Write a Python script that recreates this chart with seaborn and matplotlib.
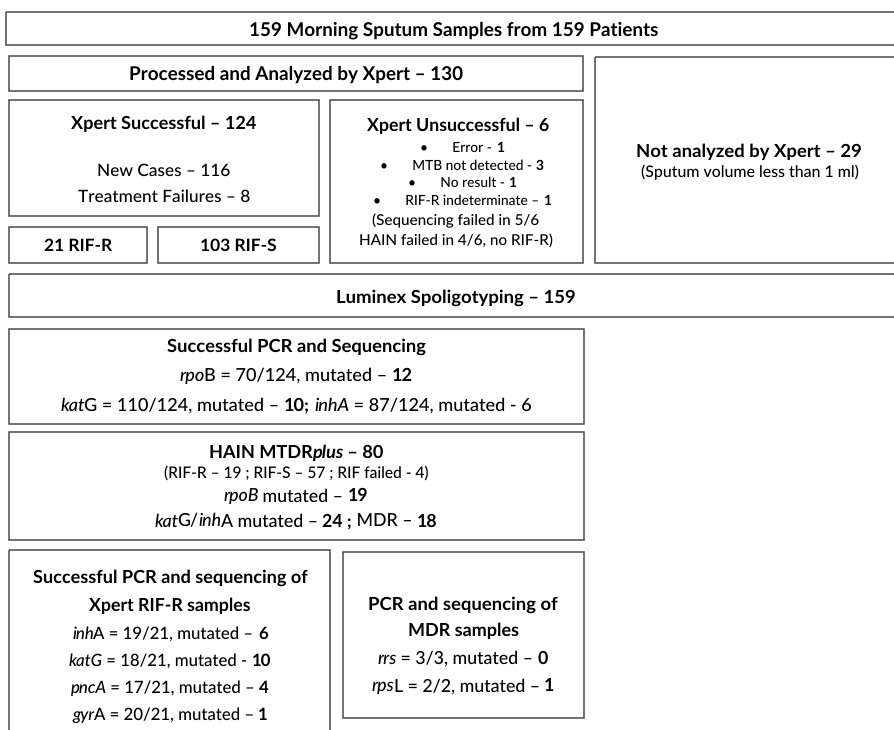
import matplotlib
matplotlib.use("Agg")
import matplotlib.pyplot as plt
import seaborn as sns
from matplotlib.patches import Rectangle
from matplotlib.font_manager import FontProperties

# counts
total_samples = 159
processed_xpert = 130
not_analyzed = 29
xpert_success = 124
new_cases = 116
treatment_failures = 8
xpert_fail = 6
fail_reasons = ["Error", "MTB not detected", "No result", "RIF-R indeterminate"]
fail_counts = [1, 3, 1, 1]
fail_dash = ["-", "-", "-", "\u2013"]
rif_r = 21
rif_s = 103
spoligo = 159
rpob_seq = [70, 124, 12]
katg_seq = [110, 124, 10]
inha_seq = [87, 124, 6]
hain_total = 80
hain_rif = [19, 57, 4]
hain_rpob_mut = 19
hain_katg_inha_mut = 24
hain_mdr = 18
rifr_genes = ["inhA", "katG", "pncA", "gyrA"]
rifr_done = [19, 18, 17, 20]
rifr_of = [21, 21, 21, 21]
rifr_mut = [6, 10, 4, 1]
mdr_genes = ["rrs", "rpsL"]
mdr_done = [3, 2]
mdr_of = [3, 2]
mdr_mut = [0, 1]

D = "\u2013"

sns.set_style("white")
plt.rcParams["font.family"] = ["Lato", "DejaVu Sans"]
plt.rcParams["text.hinting"] = "no_hinting"

fig = plt.figure(figsize=(8.94, 7.3), dpi=100)
ax = fig.add_axes([0, 0, 1, 1])
ax.set_xlim(0, 894)
ax.set_ylim(730, 0)
ax.axis("off")
renderer = fig.canvas.get_renderer()


def props(st, size):
    return FontProperties(family=["Lato", "DejaVu Sans"], size=size,
                          weight="bold" if "b" in st else "medium",
                          style="italic" if "i" in st else "normal")


def seg_width(txt, st, size):
    fp = props(st, size)
    w1 = renderer.get_text_width_height_descent("|" + txt + "|", fp, ismath=False)[0]
    w0 = renderer.get_text_width_height_descent("||", fp, ismath=False)[0]
    w = w1 - w0
    if "i" in st:
        w -= 0.06 * size
    return w


def draw_line(cx, y, segs, size):
    ws = [seg_width(t, s, size) for t, s in segs]
    x = cx - sum(ws) / 2
    base = y + 0.497 * size
    for (t, s), w in zip(segs, ws):
        ax.text(x, base, t, ha="left", va="baseline", color="black",
                fontproperties=props(s, size))
        x += w


def box(x0, y0, x1, y1):
    ax.add_patch(Rectangle((x0, y0), x1 - x0, y1 - y0, fill=False,
                           edgecolor="#4a4a4a", linewidth=1.1, clip_on=False))


# boxes
box(6, 12, 900, 45)
box(9, 56, 583, 91)
box(595, 57, 900, 263)
box(9, 100, 319, 216)
box(330, 100, 583, 263)
box(9, 227, 147, 263)
box(158, 227, 319, 263)
box(9, 274, 900, 317)
box(9, 329, 584, 424)
box(9, 432, 584, 540)
box(9, 550, 330, 740)
box(343, 552, 584, 718)

draw_line(454, 29, [(f"{total_samples} Morning Sputum Samples from {total_samples} Patients", "b")], 13.6)
draw_line(296, 73, [(f"Processed and Analyzed by Xpert {D} {processed_xpert}", "b")], 13.6)
draw_line(749, 150, [(f"Not analyzed by Xpert {D} {not_analyzed}", "b")], 13.3)
draw_line(750, 172, [("(Sputum volume less than 1 ml)", "")], 11.4)

draw_line(164, 122, [(f"Xpert Successful {D} {xpert_success}", "b")], 13.1)
draw_line(164, 170, [(f"New Cases {D} {new_cases}", "")], 12.4)
draw_line(164, 196, [(f"Treatment Failures {D} {treatment_failures}", "")], 12.4)

draw_line(458, 125, [(f"Xpert Unsuccessful {D} {xpert_fail}", "b")], 12.8)
for i, (r, c, d) in enumerate(zip(fail_reasons, fail_counts, fail_dash)):
    draw_line(462, 147 + i * 17.7, [(f"\u2022       {r} {d} ", ""), (str(c), "b")], 9.9)
draw_line(456, 220, [("(Sequencing failed in 5/6", "")], 11)
draw_line(456, 239, [("HAIN failed in 4/6, no RIF-R)", "")], 11)

draw_line(78, 245, [(f"{rif_r} RIF-R", "b")], 12.5)
draw_line(238, 245, [(f"{rif_s} RIF-S", "b")], 12.5)

draw_line(456, 296, [(f"Luminex Spoligotyping {D} {spoligo}", "b")], 13.3)

draw_line(296, 345, [("Successful PCR and Sequencing", "b")], 13.2)
draw_line(296, 374, [("rpo", "i"), (f"B = {rpob_seq[0]}/{rpob_seq[1]}, mutated {D} ", ""),
                     (str(rpob_seq[2]), "b")], 13.1)
draw_line(296, 404, [("kat", "i"), (f"G = {katg_seq[0]}/{katg_seq[1]}, mutated {D} ", ""),
                     (f"{katg_seq[2]};", "b"), (" ", ""), ("inhA", "i"),
                     (f" = {inha_seq[0]}/{inha_seq[1]}, mutated - {inha_seq[2]}", "")], 13.1)

draw_line(296, 451, [("HAIN MTDR", "b"), ("plus", "bi"), (f" {D} {hain_total}", "b")], 13.1)
draw_line(296, 472, [(f"(RIF-R {D} {hain_rif[0]} ; RIF-S {D} {hain_rif[1]} ; RIF failed - {hain_rif[2]})", "")], 11.2)
draw_line(296, 495, [("rpoB", "i"), (f" mutated {D} ", ""), (str(hain_rpob_mut), "b")], 12.8)
draw_line(296, 520, [("kat", "i"), ("G/", ""), ("inh", "i"), (f"A mutated {D} ", ""),
                     (f"{hain_katg_inha_mut} ;", "b"), (f" MDR {D} ", ""), (str(hain_mdr), "b")], 12.8)

draw_line(170, 576, [("Successful PCR and sequencing of", "b")], 13.1)
draw_line(170, 605, [("Xpert RIF-R samples", "b")], 12.8)
rifr_italic = ["inh", "katG", "pncA", "gyr"]
rifr_rest = ["A", "", "", "A"]
rifr_dash = [D, "-", D, D]
for i in range(len(rifr_genes)):
    draw_line(170, 633 + i * 27, [(rifr_italic[i], "i"),
                                  (f"{rifr_rest[i]} = {rifr_done[i]}/{rifr_of[i]}, mutated {rifr_dash[i]} ", ""),
                                  (str(rifr_mut[i]), "b")], 12.1)

draw_line(463, 603, [("PCR and sequencing of", "b")], 13.3)
draw_line(463, 630, [("MDR samples", "b")], 13)
mdr_italic = ["rrs", "rps"]
mdr_rest = ["", "L"]
for i in range(len(mdr_genes)):
    draw_line(463, 657 + i * 28, [(mdr_italic[i], "i"),
                                  (f"{mdr_rest[i]} = {mdr_done[i]}/{mdr_of[i]}, mutated {D} ", ""),
                                  (str(mdr_mut[i]), "b")], 12.8)

fig.savefig("out.png", dpi=100, facecolor="white")
